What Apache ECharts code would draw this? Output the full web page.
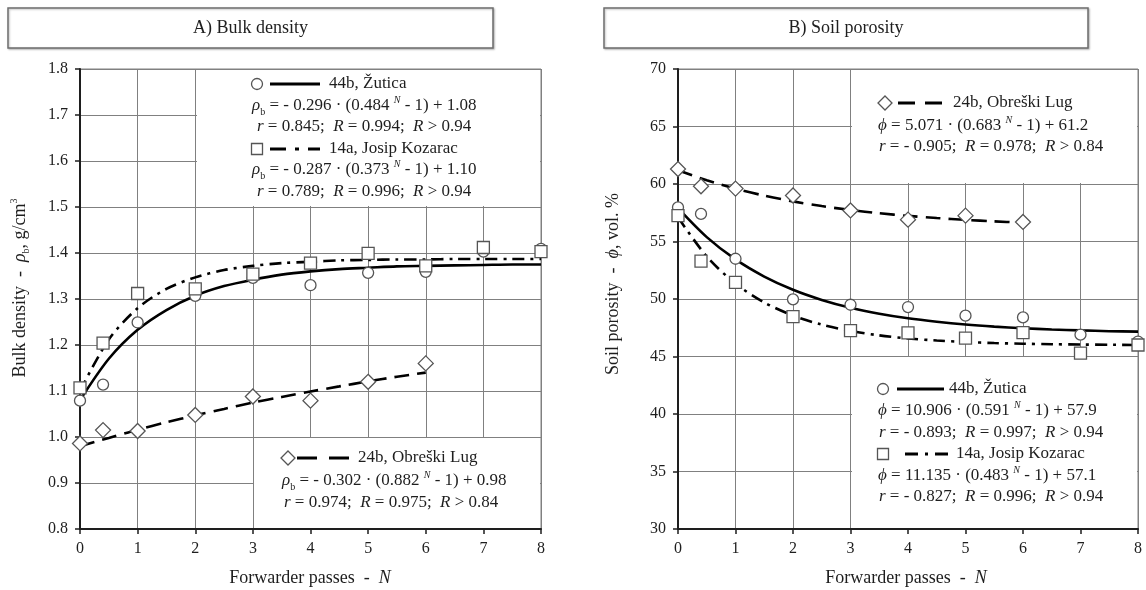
<!DOCTYPE html>
<html>
<head>
<meta charset="utf-8">
<script src="https://cdn.jsdelivr.net/npm/echarts@6/dist/echarts.min.js"></script>
<style>
  html, body { margin: 0; padding: 0; background: #fff; }
  #chart { width: 1146px; height: 590px; }
</style>
</head>
<body>
<div id="chart"></div>
<script>
// ---- measured points (forwarder passes N) ----
const passesAll = [0, 0.4, 1, 2, 3, 4, 5, 6, 7, 8];
const passesObreski = [0, 0.4, 1, 2, 3, 4, 5, 6];

// A) bulk density, g/cm3
const densityZutica  = [1.079, 1.114, 1.249, 1.307, 1.346, 1.330, 1.357, 1.359, 1.403, 1.409];
const densityKozarac = [1.107, 1.204, 1.312, 1.322, 1.354, 1.378, 1.399, 1.372, 1.412, 1.403];
const densityObreski = [0.986, 1.015, 1.013, 1.048, 1.088, 1.079, 1.120, 1.160];

// B) soil porosity, vol. %
const porosityZutica  = [57.97, 57.4, 53.5, 49.97, 49.5, 49.3, 48.55, 48.4, 46.9, 46.3];
const porosityKozarac = [57.25, 53.3, 51.45, 48.46, 47.25, 47.05, 46.6, 47.07, 45.3, 46.0];
const porosityObreski = [61.3, 59.8, 59.6, 59.0, 57.7, 56.9, 57.25, 56.7];

// ---- fitted regression curves, sampled every half pass ----
const fitPasses = [0, 0.5, 1, 1.5, 2, 2.5, 3, 3.5, 4, 4.5, 5, 5.5, 6, 6.5, 7, 7.5, 8];
const fitPassesObreski = [0, 0.5, 1, 1.5, 2, 2.5, 3, 3.5, 4, 4.5, 5, 5.5, 6];
const fitDensityZutica  = [1.080, 1.170, 1.233, 1.276, 1.307, 1.328, 1.342, 1.353, 1.360, 1.365, 1.368, 1.371, 1.372, 1.373, 1.374, 1.375, 1.375];
const fitDensityKozarac = [1.100, 1.212, 1.280, 1.322, 1.347, 1.363, 1.372, 1.378, 1.381, 1.384, 1.385, 1.386, 1.386, 1.387, 1.387, 1.387, 1.387];
const fitDensityObreski = [0.980, 0.998, 1.016, 1.032, 1.047, 1.061, 1.075, 1.087, 1.099, 1.110, 1.121, 1.131, 1.140];
const fitPorosityZutica  = [57.90, 55.38, 53.44, 51.95, 50.80, 49.92, 49.24, 48.72, 48.32, 48.02, 47.78, 47.60, 47.46, 47.35, 47.27, 47.20, 47.16];
const fitPorosityKozarac = [57.10, 53.70, 51.34, 49.70, 48.56, 47.77, 47.22, 46.84, 46.57, 46.39, 46.26, 46.17, 46.11, 46.07, 46.04, 46.02, 46.00];
const fitPorosityObreski = [61.20, 60.32, 59.59, 58.99, 58.49, 58.08, 57.74, 57.46, 57.23, 57.04, 56.88, 56.75, 56.64];

// ---- axis ranges ----
const passRange = { min: 0, max: 8, interval: 1 };
const densityRange = { min: 0.8, max: 1.8, interval: 0.1 };
const porosityRange = { min: 30, max: 70, interval: 5 };

const FONT = "'Liberation Serif','Times New Roman',serif";
const INK = '#1e1e1e';
const MARK = '#555';
const GRIDLINE = '#808080';

const pairs = (xs, ys) => xs.map((x, i) => [x, ys[i]]);

const chart = echarts.init(document.getElementById('chart'), null, { renderer: 'canvas' });

function xAxisFor(gridIndex) {
  return {
    gridIndex, type: 'value', min: passRange.min, max: passRange.max, interval: passRange.interval,
    axisLine: { show: true, onZero: false, lineStyle: { color: INK, width: 2 } },
    axisTick: { show: true, length: 5, lineStyle: { color: INK, width: 1.5 } },
    axisLabel: { fontFamily: FONT, fontSize: 16, color: INK, margin: 12 },
    splitLine: { show: true, lineStyle: { color: GRIDLINE, width: 1 } }
  };
}
function yAxisFor(gridIndex, range, digits) {
  return {
    gridIndex, type: 'value', min: range.min, max: range.max, interval: range.interval,
    axisLine: { show: true, onZero: false, lineStyle: { color: INK, width: 2 } },
    axisTick: { show: true, length: 5, lineStyle: { color: INK, width: 1.5 } },
    axisLabel: { fontFamily: FONT, fontSize: 16, color: INK, margin: 12,
                 formatter: v => Number(v).toFixed(digits) },
    splitLine: { show: true, lineStyle: { color: GRIDLINE, width: 1 } }
  };
}

const dashDot = [12, 6, 3, 6];
const dashed = [15, 8];

function fitLine(idx, xs, ys, dash) {
  return {
    type: 'line', xAxisIndex: idx, yAxisIndex: idx, data: pairs(xs, ys),
    showSymbol: false, symbol: 'none', smooth: 0.3, z: 3,
    lineStyle: { color: '#000', width: 2.6, type: dash || 'solid', cap: 'butt' },
    silent: true
  };
}
function points(idx, xs, ys, symbol, size) {
  return {
    type: 'scatter', xAxisIndex: idx, yAxisIndex: idx, data: pairs(xs, ys),
    symbol, symbolSize: size, z: 5, clip: false,
    itemStyle: { color: '#fff', borderColor: MARK, borderWidth: 1.3, opacity: 1 }
  };
}

// ---- legend / annotation graphics ----
const rich = {
  i:   { fontFamily: FONT, fontSize: 17, fontStyle: 'italic', fill: INK },
  sub: { fontFamily: FONT, fontSize: 10, fill: INK, verticalAlign: 'bottom' },
  sup: { fontFamily: FONT, fontSize: 10, fontStyle: 'italic', fill: INK, verticalAlign: 'top' }
};
function label(x, y, text, extra) {
  return Object.assign({
    type: 'text', x, y, z: 20,
    style: { text, rich, fontFamily: FONT, fontSize: 17, fill: INK, align: 'left',
             verticalAlign: 'middle', lineHeight: 22 }
  }, extra || {});
}
function axisName(x, y, text, rotated) {
  return {
    type: 'text', x, y, z: 20, rotation: rotated ? Math.PI / 2 : 0,
    style: {
      text, fontFamily: FONT, fontSize: 18, fill: INK, align: 'center', verticalAlign: 'middle', lineHeight: 22,
      rich: {
        i: { fontFamily: FONT, fontSize: 18, fontStyle: 'italic', fill: INK },
        sub: { fontFamily: FONT, fontSize: 10, fill: INK, verticalAlign: 'bottom' },
        sup: { fontFamily: FONT, fontSize: 10, fill: INK, verticalAlign: 'top' }
      }
    }
  };
}
function whiteBox(x, y, w, h) {
  return { type: 'rect', z: 1, shape: { x, y, width: w, height: h }, style: { fill: '#fff' }, silent: true };
}
function sampleLine(x1, x2, y, dash) {
  return { type: 'line', z: 20, shape: { x1, y1: y, x2, y2: y },
           style: { stroke: '#000', lineWidth: 3, lineDash: dash || null, lineCap: 'butt' } };
}
function circleMark(cx, cy) {
  return { type: 'circle', z: 21, shape: { cx, cy, r: 5.5 }, style: { fill: '#fff', stroke: MARK, lineWidth: 1.3 } };
}
function squareMark(cx, cy) {
  return { type: 'rect', z: 21, shape: { x: cx - 5.5, y: cy - 5.5, width: 11, height: 11 },
           style: { fill: '#fff', stroke: MARK, lineWidth: 1.3 } };
}
function diamondMark(cx, cy) {
  return { type: 'polygon', z: 21, shape: { points: [[cx, cy - 7], [cx + 7, cy], [cx, cy + 7], [cx - 7, cy]] },
           style: { fill: '#fff', stroke: MARK, lineWidth: 1.3 } };
}
function titleBox(x, y, w, h, text) {
  return [
    { type: 'rect', z: 1, shape: { x, y, width: w, height: h },
      style: { fill: '#fff', stroke: '#6e6e6e', lineWidth: 1.5,
               shadowBlur: 2, shadowOffsetX: 1, shadowOffsetY: 1, shadowColor: 'rgba(0,0,0,0.25)' } },
    { type: 'text', z: 2, x: x + w / 2, y: y + h / 2,
      style: { text, fontFamily: FONT, fontSize: 18, fill: INK, align: 'center', verticalAlign: 'middle' } }
  ];
}

const graphics = [].concat(
  titleBox(8, 8, 485, 40, 'A) Bulk density'),
  titleBox(604, 8, 484, 40, 'B) Soil porosity'),

  // axis names
  [
    axisName(20, 288, 'Bulk density  -  {i|ρ}{sub|b}, g/cm{sup|3}', true),
    axisName(613, 284, 'Soil porosity  -  {i|ϕ}, vol. %', true),
    axisName(310, 578, 'Forwarder passes  -  {i|N}', false),
    axisName(906, 578, 'Forwarder passes  -  {i|N}', false)
  ],

  // A) upper legend box
  [
    whiteBox(197, 70, 343, 136),
    circleMark(257, 84), sampleLine(270, 320, 84), label(329, 84, '44b, Žutica'),
    label(252, 106, '{i|ρ}{sub|b} = - 0.296 · (0.484 {sup|N} - 1) + 1.08'),
    label(257, 127, '{i|r} = 0.845;  {i|R} = 0.994;  {i|R} > 0.94'),
    squareMark(257, 149), sampleLine(270, 320, 149, [16, 9, 4, 9]), label(329, 149, '14a, Josip Kozarac'),
    label(252, 170, '{i|ρ}{sub|b} = - 0.287 · (0.373 {sup|N} - 1) + 1.10'),
    label(257, 192, '{i|r} = 0.789;  {i|R} = 0.996;  {i|R} > 0.94')
  ],
  // A) lower legend box
  [
    whiteBox(254, 438, 286, 90),
    diamondMark(288, 458), sampleLine(297, 349, 458, [20, 12]), label(358, 458, '24b, Obreški Lug'),
    label(282, 481, '{i|ρ}{sub|b} = - 0.302 · (0.882 {sup|N} - 1) + 0.98'),
    label(284, 503, '{i|r} = 0.974;  {i|R} = 0.975;  {i|R} > 0.84')
  ],
  // B) upper legend box
  [
    whiteBox(852, 70, 285, 113),
    diamondMark(885, 103), sampleLine(898, 942, 103, [17, 10]), label(953, 103, '24b, Obreški Lug'),
    label(878, 126, '{i|ϕ} = 5.071 · (0.683 {sup|N} - 1) + 61.2'),
    label(879, 147, '{i|r} = - 0.905;  {i|R} = 0.978;  {i|R} > 0.84')
  ],
  // B) lower legend box
  [
    whiteBox(852, 357, 285, 171),
    circleMark(883, 389), sampleLine(897, 944, 389), label(949, 389, '44b, Žutica'),
    label(878, 411, '{i|ϕ} = 10.906 · (0.591 {sup|N} - 1) + 57.9'),
    label(879, 433, '{i|r} = - 0.893;  {i|R} = 0.997;  {i|R} > 0.94'),
    squareMark(883, 454), sampleLine(905, 948, 454, [13, 7, 3, 7]), label(956, 454, '14a, Josip Kozarac'),
    label(878, 476, '{i|ϕ} = 11.135 · (0.483 {sup|N} - 1) + 57.1'),
    label(879, 497, '{i|r} = - 0.827;  {i|R} = 0.996;  {i|R} > 0.94')
  ]
);

const option = {
  animation: false,
  backgroundColor: '#fff',
  grid: [
    { left: 80, top: 69, width: 461, height: 460, show: true, borderColor: GRIDLINE, borderWidth: 1 },
    { left: 678, top: 69, width: 460, height: 460, show: true, borderColor: GRIDLINE, borderWidth: 1 }
  ],
  xAxis: [xAxisFor(0), xAxisFor(1)],
  yAxis: [yAxisFor(0, densityRange, 1), yAxisFor(1, porosityRange, 0)],
  series: [
    fitLine(0, fitPasses, fitDensityZutica),
    fitLine(0, fitPasses, fitDensityKozarac, dashDot),
    fitLine(0, fitPassesObreski, fitDensityObreski, dashed),
    points(0, passesAll, densityZutica, 'circle', 11),
    points(0, passesAll, densityKozarac, 'rect', 12),
    points(0, passesObreski, densityObreski, 'diamond', 15),

    fitLine(1, fitPasses, fitPorosityZutica),
    fitLine(1, fitPasses, fitPorosityKozarac, dashDot),
    fitLine(1, fitPassesObreski, fitPorosityObreski, dashed),
    points(1, passesAll, porosityZutica, 'circle', 11),
    points(1, passesAll, porosityKozarac, 'rect', 12),
    points(1, passesObreski, porosityObreski, 'diamond', 15)
  ],
  graphic: { elements: graphics }
};

chart.setOption(option);
</script>
</body>
</html>
